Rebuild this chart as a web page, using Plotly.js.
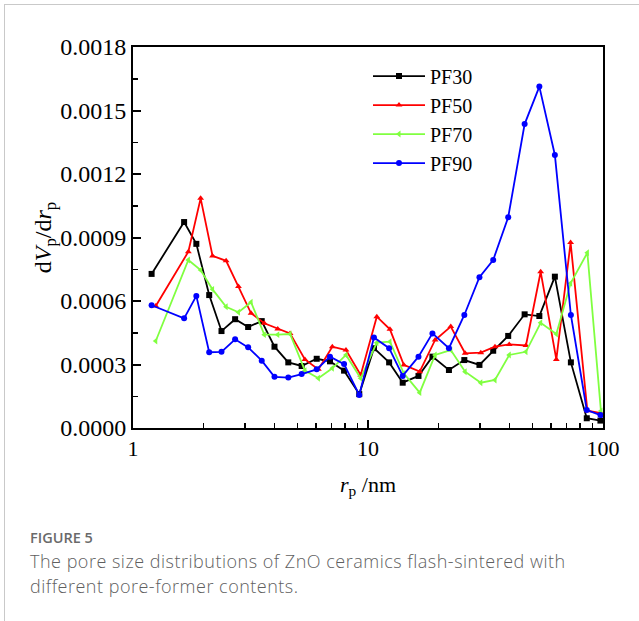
<!DOCTYPE html>
<html>
<head>
<meta charset="utf-8">
<script src="https://cdn.plot.ly/plotly-3.0.1.min.js"></script>
<style>
  html, body { margin: 0; padding: 0; background: #fff; }
  #wrap { position: relative; width: 639px; height: 621px; overflow: hidden; }
  #frame { position: absolute; left: 4px; top: 4px; width: 640px; height: 640px;
           border-left: 1px solid #c9c9c9; border-top: 1px solid #c9c9c9; }
  #chart { position: absolute; left: 0; top: 0; width: 639px; height: 621px; }
  .cap { position: absolute; left: 30px; font-family: "Open Sans", "Noto Sans", sans-serif; color: #5f5f5f; }
  #figno { top: 530px; font-size: 14.5px; line-height: 16px; font-weight: 600; color: #6a6a6a; }
  #captext { top: 549px; font-size: 18px; line-height: 25px; letter-spacing: 0.5px; width: 620px; font-weight: 300; }
</style>
</head>
<body>
<div id="wrap">
  <div id="chart"></div>
  <div id="frame"></div>
  <div class="cap" id="figno">FIGURE 5</div>
  <div class="cap" id="captext">The pore size distributions of ZnO ceramics flash-sintered with<br>different pore-former contents.</div>
</div>
<script>
// pore radius (nm) positions
const rA = [1.20,1.65,1.86,2.11,2.38,2.72,3.09,3.53,4.00,4.58,5.22,6.05,6.89,7.91,9.18,
            10.6,12.3,14.05,16.4,18.8,22.1,25.7,29.8,34.1,39.5,46.4,53.6,62.4,73.0,85.3,97.5];
const rB = [1.25,1.72,1.94,2.18,2.49,2.81,3.18,3.62,4.13,4.66,5.39,6.15,7.05,8.06,9.31,
            10.9,12.4,14.2,16.6,19.3,22.5,25.9,30.2,34.7,39.9,47.0,54.3,63.3,72.8,85.8,98.0];

const PF30 = [0.000728,0.000973,0.000870,0.000628,0.000458,0.000514,0.000477,0.000505,0.000384,0.000310,0.000293,0.000327,0.000315,0.000271,0.000160,
              0.000377,0.000310,0.000214,0.000246,0.000337,0.000274,0.000321,0.000298,0.000365,0.000435,0.000537,0.000529,0.000715,0.000310,0.000046,0.000035];
const PF50 = [0.000576,0.000833,0.001085,0.000813,0.000790,0.000668,0.000542,0.000495,0.000468,0.000447,0.000324,0.000277,0.000384,0.000368,0.000250,
              0.000526,0.000466,0.000298,0.000266,0.000416,0.000479,0.000353,0.000356,0.000384,0.000395,0.000390,0.000738,0.000324,0.000876,0.000082,0.000070];
const PF70 = [0.000411,0.000794,0.000746,0.000655,0.000573,0.000547,0.000594,0.000441,0.000441,0.000444,0.000271,0.000235,0.000282,0.000345,0.000235,
              0.000403,0.000408,0.000258,0.000167,0.000345,0.000368,0.000266,0.000214,0.000227,0.000345,0.000360,0.000497,0.000444,0.000684,0.000828,0.000080];
const PF90 = [0.000580,0.000518,0.000624,0.000358,0.000360,0.000419,0.000381,0.000318,0.000242,0.000238,0.000255,0.000277,0.000337,0.000302,0.000156,
              0.000428,0.000377,0.000246,0.000337,0.000447,0.000377,0.000534,0.000712,0.000794,0.000996,0.001436,0.001613,0.001290,0.000534,0.000085,0.000061];

const xTickVals = [1, 10, 100];
const xTickText = ["1", "10", "100"];

const serif = "Liberation Serif, Times New Roman, serif";

function tr(name, x, y, color, symbol) {
  return {
    type: "scatter", mode: "lines+markers", name: name, x: x, y: y,
    line: { color: color, width: 1.8 },
    marker: { color: color, symbol: symbol, size: 6 }
  };
}

const data = [
  tr("PF30", rA, PF30, "#000000", "square"),
  tr("PF50", rB, PF50, "#ff0000", "triangle-up"),
  tr("PF70", rB, PF70, "#80ff40", "triangle-left"),
  tr("PF90", rA, PF90, "#0000ff", "circle")
];

const layout = {
  width: 639, height: 621,
  margin: { l: 133, r: 36, t: 47, b: 193 },
  paper_bgcolor: "rgba(0,0,0,0)", plot_bgcolor: "#fff",
  showlegend: true,
  legend: {
    x: 0.50, y: 0.975, xanchor: "left", yanchor: "top",
    bgcolor: "rgba(0,0,0,0)", traceorder: "normal",
    itemwidth: 52,
    font: { family: serif, size: 20, color: "#000" }
  },
  xaxis: {
    type: "log", range: [0, 2],
    tickvals: xTickVals, ticktext: xTickText,
    ticks: "inside", ticklen: 8, tickwidth: 2, tickcolor: "#000",
    minor: { ticks: "inside", ticklen: 5, tickwidth: 1.5, tickcolor: "#000", dtick: "D1" },
    showline: true, linewidth: 2, linecolor: "#000", mirror: true,
    showgrid: false, zeroline: false,
    tickfont: { family: serif, size: 22, color: "#000" },
    title: { text: "<i>r</i><sub>p</sub> /nm", font: { family: serif, size: 22, color: "#000" }, standoff: 16 }
  },
  yaxis: {
    range: [0, 0.0018], dtick: 0.0003, tick0: 0, tickformat: ".4f",
    ticks: "inside", ticklen: 8, tickwidth: 2, tickcolor: "#000",
    minor: { ticks: "inside", ticklen: 5, tickwidth: 1.5, tickcolor: "#000", dtick: 0.00015 },
    showline: true, linewidth: 2, linecolor: "#000", mirror: true,
    showgrid: false, zeroline: false,
    tickfont: { family: serif, size: 24, color: "#000" },
    title: { text: "d<i>V</i><sub>p</sub>/d<i>r</i><sub>p</sub>", font: { family: serif, size: 24, color: "#000" }, standoff: 2 }
  }
};

Plotly.newPlot("chart", data, layout, { displayModeBar: false, staticPlot: true });
</script>
</body>
</html>
